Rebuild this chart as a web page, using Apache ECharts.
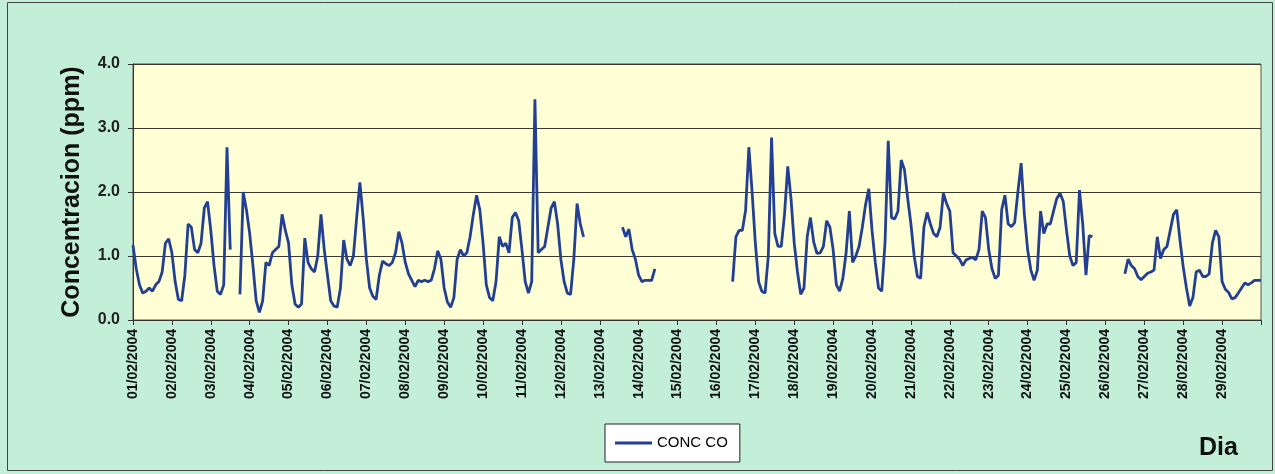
<!DOCTYPE html>
<html>
<head>
<meta charset="utf-8">
<script src="https://cdn.jsdelivr.net/npm/echarts@6/dist/echarts.min.js"></script>
<style>
html,body{margin:0;padding:0;background:#c3eed7;}
#chart{width:1275px;height:474px;}
</style>
</head>
<body>
<div id="chart"></div>
<script>
// Day tick labels
const days = ['01/02/2004','02/02/2004','03/02/2004','04/02/2004','05/02/2004','06/02/2004','07/02/2004',
  '08/02/2004','09/02/2004','10/02/2004','11/02/2004','12/02/2004','13/02/2004','14/02/2004','15/02/2004',
  '16/02/2004','17/02/2004','18/02/2004','19/02/2004','20/02/2004','21/02/2004','22/02/2004','23/02/2004',
  '24/02/2004','25/02/2004','26/02/2004','27/02/2004','28/02/2004','29/02/2004'];
// Two-hourly readings within each day
const hours = ['00:00','02:00','04:00','06:00','08:00','10:00','12:00','14:00','16:00','18:00','20:00','22:00'];
const endCategory = '01/03/2004 00:00';
const seriesName = 'CONC CO';
const yTicks = [0, 1, 2, 3, 4];
// CO concentration (ppm), 12 values per day (null = no data)
const concCO = [
  1.17,0.80,0.55,0.42,0.45,0.50,0.45,0.55,0.60,0.75,1.20,1.27,   // 01
  1.05,0.60,0.32,0.30,0.70,1.50,1.45,1.10,1.05,1.20,1.75,1.85,   // 02
  1.40,0.85,0.45,0.40,0.55,2.70,1.10,null,null,0.40,2.00,1.72,   // 03
  1.35,0.85,0.30,0.12,0.30,0.90,0.85,1.05,1.10,1.15,1.65,1.40,   // 04
  1.20,0.55,0.25,0.20,0.25,1.28,0.90,0.80,0.75,1.00,1.65,1.10,   // 05
  0.70,0.30,0.22,0.20,0.50,1.25,0.95,0.85,1.00,1.60,2.15,1.60,   // 06
  0.95,0.50,0.37,0.32,0.70,0.92,0.88,0.85,0.90,1.05,1.38,1.20,   // 07
  0.90,0.72,0.62,0.52,0.62,0.60,0.62,0.60,0.62,0.80,1.08,0.95,   // 08
  0.50,0.28,0.20,0.35,0.95,1.10,1.00,1.05,1.30,1.65,1.95,1.72,   // 09
  1.20,0.55,0.35,0.30,0.60,1.30,1.15,1.20,1.05,1.60,1.68,1.55,   // 10
  1.10,0.60,0.42,0.60,3.45,1.05,1.10,1.15,1.45,1.75,1.85,1.50,   // 11
  0.95,0.60,0.42,0.40,0.95,1.82,1.50,1.30,null,null,null,null,   // 12
  null,null,null,null,null,null,null,1.45,1.30,1.42,1.10,0.95,   // 13
  0.70,0.60,0.62,0.62,0.62,0.80,null,null,null,null,null,null,   // 14
  null,null,null,null,null,null,null,null,null,null,null,null,   // 15
  null,null,null,null,null,0.60,1.30,1.40,1.40,1.72,2.70,2.00,   // 16
  1.20,0.60,0.45,0.42,1.00,2.85,1.35,1.15,1.15,1.65,2.40,1.90,   // 17
  1.20,0.75,0.40,0.50,1.30,1.60,1.22,1.04,1.05,1.15,1.55,1.45,   // 18
  1.10,0.55,0.45,0.65,1.05,1.70,0.90,1.00,1.15,1.45,1.80,2.05,   // 19
  1.40,0.90,0.50,0.45,1.20,2.80,1.60,1.58,1.70,2.50,2.35,1.90,   // 20
  1.50,1.00,0.68,0.65,1.45,1.68,1.50,1.35,1.30,1.45,1.98,1.82,   // 21
  1.70,1.05,1.00,0.95,0.85,0.94,0.96,0.98,0.94,1.10,1.70,1.60,   // 22
  1.10,0.80,0.65,0.70,1.72,1.95,1.50,1.46,1.52,2.00,2.45,1.65,   // 23
  1.10,0.78,0.62,0.78,1.70,1.35,1.50,1.50,1.70,1.90,1.98,1.85,   // 24
  1.40,1.00,0.85,0.90,2.03,1.50,0.70,1.32,1.30,null,null,null,   // 25
  null,null,null,null,null,null,0.72,0.95,0.85,0.80,0.68,0.63,   // 26
  0.68,0.73,0.75,0.78,1.30,0.96,1.10,1.15,1.40,1.65,1.72,1.25,   // 27
  0.83,0.50,0.22,0.35,0.75,0.78,0.68,0.68,0.72,1.20,1.40,1.30,   // 28
  0.60,0.48,0.43,0.33,0.35,0.42,0.50,0.58,0.55,0.58,0.62,0.62,   // 29
  0.62
];

const categories = [];
days.forEach(d => hours.forEach(h => categories.push(d + ' ' + h)));
categories.push(endCategory);
const perDay = hours.length;
const lastIndex = categories.length - 1;

const chart = echarts.init(document.getElementById('chart'), null, {renderer: 'canvas'});
chart.setOption({
  animation: false,
  backgroundColor: '#c3eed7',
  grid: {
    left: 133, right: 14, top: 64, bottom: 154,
    show: true, backgroundColor: '#ffffd5', borderColor: '#555', borderWidth: 1
  },
  legend: {
    data: [{name: seriesName, icon: 'rect'}],
    left: 605, top: 424,
    backgroundColor: '#ffffff', borderColor: '#222', borderWidth: 1,
    padding: [11, 12, 11, 10],
    itemWidth: 37, itemHeight: 3,
    textStyle: {fontFamily: 'Liberation Sans', fontSize: 15, color: '#000', lineHeight: 16}
  },
  xAxis: {
    type: 'category',
    data: categories,
    boundaryGap: false,
    axisLine: {lineStyle: {color: '#333', width: 1}},
    axisTick: {show: true, length: 5, interval: (i) => i % perDay === 0, lineStyle: {color: '#333'}},
    axisLabel: {
      interval: (i) => i % perDay === 0 && i < lastIndex,
      rotate: 90, margin: 9,
      fontFamily: 'Liberation Sans', fontSize: 14, fontWeight: 'bold', color: '#111',
      formatter: (v) => v.slice(0, 10)
    },
    splitLine: {show: false}
  },
  yAxis: {
    type: 'value',
    min: yTicks[0], max: yTicks[yTicks.length - 1], interval: 1,
    name: 'Concentracion (ppm)',
    nameLocation: 'middle', nameGap: 48, nameRotate: 90,
    nameTextStyle: {fontFamily: 'Liberation Sans', fontSize: 25, fontWeight: 'bold', color: '#111'},
    axisLine: {show: true, lineStyle: {color: '#333', width: 1}},
    axisTick: {show: true, length: 5, lineStyle: {color: '#333'}},
    axisLabel: {
      margin: 13, fontFamily: 'Liberation Sans', fontSize: 16, fontWeight: 'bold', color: '#222',
      formatter: (v) => v.toFixed(1)
    },
    splitLine: {show: true, lineStyle: {color: '#3a3a30', width: 1}}
  },
  graphic: [
    {type: 'rect', shape: {x: 7.5, y: 2.5, width: 1265, height: 468}, style: {fill: 'none', stroke: '#444', lineWidth: 1}, z: 100, silent: true},
    {type: 'text', left: 1199, top: 436, style: {text: 'Dia', font: 'bold 25px "Liberation Sans"', fill: '#111'}, z: 100}
  ],
  series: [{
    name: seriesName,
    type: 'line',
    data: concCO,
    symbol: 'none',
    connectNulls: false,
    lineStyle: {color: '#233f94', width: 2.8},
    itemStyle: {color: '#233f94'}
  }]
});
</script>
</body>
</html>
